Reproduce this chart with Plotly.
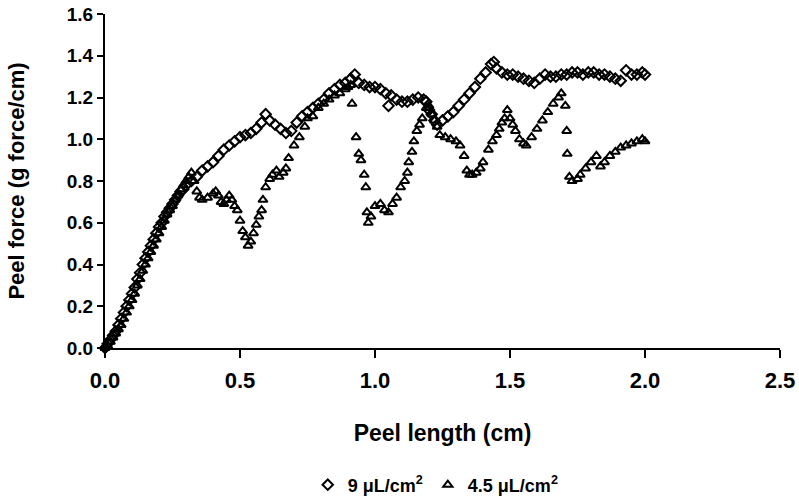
import plotly.graph_objects as go

# 9 uL/cm2 (diamonds)
x_9 = [0.00, 0.01, 0.02, 0.03, 0.04, 0.05, 0.06, 0.07, 0.08, 0.09, 0.10, 0.11, 0.12, 0.13, 0.14,
       0.15, 0.16, 0.17, 0.18, 0.19, 0.20, 0.21, 0.22, 0.23, 0.24, 0.25, 0.26, 0.27, 0.28, 0.29,
       0.30, 0.32, 0.34, 0.36, 0.38, 0.40, 0.42, 0.44, 0.46, 0.48, 0.50, 0.52, 0.54, 0.56, 0.58,
       0.595, 0.61, 0.63, 0.65, 0.67, 0.69, 0.71, 0.73, 0.75, 0.77, 0.79, 0.81, 0.83, 0.85, 0.87,
       0.89, 0.91, 0.925, 0.94, 0.96, 0.98, 1.00, 1.02, 1.04, 1.05, 1.06, 1.08, 1.10, 1.12, 1.14,
       1.16, 1.18, 1.19, 1.20, 1.21, 1.22, 1.23, 1.25, 1.27, 1.29, 1.31, 1.33, 1.35, 1.37, 1.39,
       1.41, 1.43, 1.44, 1.45, 1.47, 1.49, 1.51, 1.53, 1.55, 1.57, 1.59, 1.61, 1.63, 1.65, 1.67,
       1.69, 1.71, 1.73, 1.75, 1.77, 1.79, 1.81, 1.83, 1.85, 1.87, 1.89, 1.91, 1.93, 1.95, 1.97,
       1.99, 2.00]
y_9 = [0.00, 0.02, 0.04, 0.06, 0.08, 0.11, 0.14, 0.17, 0.20, 0.23, 0.26, 0.29, 0.33, 0.36, 0.40,
       0.43, 0.46, 0.49, 0.52, 0.55, 0.58, 0.60, 0.63, 0.65, 0.67, 0.69, 0.71, 0.73, 0.75, 0.76,
       0.78, 0.80, 0.82, 0.85, 0.87, 0.89, 0.92, 0.95, 0.97, 0.99, 1.01, 1.02, 1.03, 1.05, 1.08,
       1.12, 1.09, 1.07, 1.05, 1.03, 1.04, 1.08, 1.11, 1.13, 1.15, 1.17, 1.19, 1.22, 1.24, 1.26,
       1.27, 1.29, 1.31, 1.27, 1.26, 1.25, 1.25, 1.24, 1.22, 1.16, 1.21, 1.19, 1.18, 1.18, 1.19,
       1.20, 1.19, 1.18, 1.14, 1.12, 1.09, 1.07, 1.09, 1.11, 1.13, 1.16, 1.19, 1.22, 1.25, 1.29,
       1.32, 1.36, 1.37, 1.34, 1.32, 1.31, 1.31, 1.30, 1.29, 1.28, 1.27, 1.29, 1.31, 1.30, 1.30,
       1.31, 1.31, 1.32, 1.32, 1.31, 1.32, 1.32, 1.31, 1.31, 1.30, 1.29, 1.28, 1.33, 1.31, 1.31,
       1.32, 1.31]

# 4.5 uL/cm2 (triangles)
x_45 = [0.00, 0.01, 0.02, 0.03, 0.04, 0.05, 0.06, 0.07, 0.08, 0.09, 0.10, 0.11, 0.12, 0.13, 0.14,
        0.15, 0.16, 0.17, 0.18, 0.19, 0.20, 0.21, 0.22, 0.23, 0.24, 0.25, 0.26, 0.27, 0.28, 0.29,
        0.30, 0.31, 0.32, 0.33, 0.34, 0.35, 0.36, 0.38, 0.40, 0.41, 0.42, 0.43, 0.44, 0.45, 0.46,
        0.47, 0.48, 0.49, 0.50, 0.51, 0.52, 0.53, 0.54, 0.55, 0.56, 0.57, 0.58, 0.585, 0.595, 0.61,
        0.62, 0.635, 0.645, 0.66, 0.67, 0.68, 0.70, 0.72, 0.74, 0.75, 0.77, 0.79, 0.81, 0.83, 0.85,
        0.87, 0.89, 0.90, 0.91, 0.915, 0.93, 0.94, 0.948, 0.96, 0.966, 0.97, 0.975, 0.985, 1.00, 1.02,
        1.035, 1.05, 1.065, 1.08, 1.095, 1.11, 1.12, 1.125, 1.137, 1.144, 1.155, 1.165, 1.175, 1.19, 1.20,
        1.21, 1.22, 1.23, 1.24, 1.26, 1.28, 1.30, 1.315, 1.33, 1.34, 1.35, 1.36, 1.375, 1.39, 1.40,
        1.42, 1.435, 1.45, 1.46, 1.47, 1.48, 1.49, 1.50, 1.51, 1.52, 1.535, 1.55, 1.56, 1.58, 1.60,
        1.62, 1.64, 1.66, 1.68, 1.69, 1.705, 1.71, 1.712, 1.72, 1.73, 1.75, 1.76, 1.78, 1.80, 1.82,
        1.835, 1.85, 1.87, 1.89, 1.91, 1.93, 1.95, 1.97, 1.99, 2.00]
y_45 = [0.00, 0.01, 0.03, 0.05, 0.07, 0.09, 0.11, 0.14, 0.17, 0.20, 0.23, 0.26, 0.30, 0.33, 0.37,
        0.40, 0.43, 0.46, 0.49, 0.52, 0.55, 0.58, 0.61, 0.64, 0.66, 0.68, 0.71, 0.73, 0.76, 0.78,
        0.80, 0.82, 0.84, 0.80, 0.75, 0.72, 0.71, 0.72, 0.74, 0.75, 0.73, 0.70, 0.69, 0.71, 0.73,
        0.71, 0.68, 0.66, 0.61, 0.56, 0.53, 0.49, 0.51, 0.55, 0.59, 0.63, 0.66, 0.71, 0.77, 0.81,
        0.83, 0.85, 0.82, 0.84, 0.86, 0.91, 0.97, 1.01, 1.06, 1.10, 1.11, 1.15, 1.17, 1.19, 1.21,
        1.22, 1.24, 1.25, 1.26, 1.17, 1.01, 0.93, 0.90, 0.83, 0.77, 0.65, 0.60, 0.63, 0.68, 0.69,
        0.66, 0.65, 0.69, 0.72, 0.77, 0.80, 0.84, 0.89, 0.94, 0.99, 1.04, 1.07, 1.10, 1.15, 1.16,
        1.12, 1.09, 1.06, 1.02, 1.01, 1.00, 0.99, 0.97, 0.92, 0.85, 0.83, 0.83, 0.84, 0.86, 0.89,
        0.95, 0.99, 1.02, 1.05, 1.08, 1.10, 1.14, 1.10, 1.07, 1.04, 1.00, 0.98, 0.97, 1.01, 1.05,
        1.09, 1.13, 1.17, 1.20, 1.22, 1.16, 1.04, 0.93, 0.82, 0.80, 0.81, 0.83, 0.86, 0.89, 0.92,
        0.87, 0.89, 0.92, 0.94, 0.96, 0.97, 0.98, 0.99, 1.00, 0.99]

x_ticks = [0.0, 0.5, 1.0, 1.5, 2.0, 2.5]
y_ticks = [0.0, 0.2, 0.4, 0.6, 0.8, 1.0, 1.2, 1.4, 1.6]

fig = go.Figure()
fig.add_trace(go.Scatter(
    x=x_9, y=y_9, mode="markers", name="9 μL/cm<sup>2</sup>", cliponaxis=False,
    marker=dict(symbol="diamond-open", size=8, color="black", line=dict(width=2, color="black")),
))
fig.add_trace(go.Scatter(
    x=x_45, y=y_45, mode="markers", name="4.5 μL/cm<sup>2</sup>", cliponaxis=False,
    marker=dict(symbol="triangle-up-open", size=8, color="black", line=dict(width=2, color="black")),
))

font_name = "Liberation Sans"

fig.update_layout(
    width=799, height=500,
    margin=dict(l=105, r=19, t=14, b=152),
    plot_bgcolor="white", paper_bgcolor="white",
    font=dict(family=font_name, color="black", weight="bold"),
    legend=dict(
        orientation="h", x=0.49, xanchor="center", y=0.03, yanchor="middle", yref="container",
        font=dict(family=font_name, size=18, weight="bold"), itemwidth=30,
    ),
)
fig.update_xaxes(
    range=[0, 2.5], tickvals=x_ticks, tickformat=".1f", automargin=False,
    showline=True, linewidth=2, linecolor="black", showgrid=False, zeroline=False,
    ticks="outside", ticklen=8, tickwidth=2, tickcolor="black", ticklabelstandoff=4,
    tickfont=dict(family=font_name, size=22, weight="bold"),
    title=dict(text="Peel length (cm)", font=dict(family=font_name, size=23, weight="bold"), standoff=32),
)
fig.update_yaxes(
    range=[0, 1.6], tickvals=y_ticks, tickformat=".1f", automargin=False,
    showline=True, linewidth=2, linecolor="black", showgrid=False, zeroline=False,
    ticks="outside", ticklen=6, tickwidth=2, tickcolor="black", ticklabeloverflow="allow",
    tickfont=dict(family=font_name, size=19, weight="bold"),
    title=dict(text="Peel force (g force/cm)", font=dict(family=font_name, size=22, weight="bold"), standoff=36),
)

# drop the default 8px body margin so the figure fills the window
fig.write_html("out.html", config={"displayModeBar": False},
               post_script="document.body.style.margin='0';")
